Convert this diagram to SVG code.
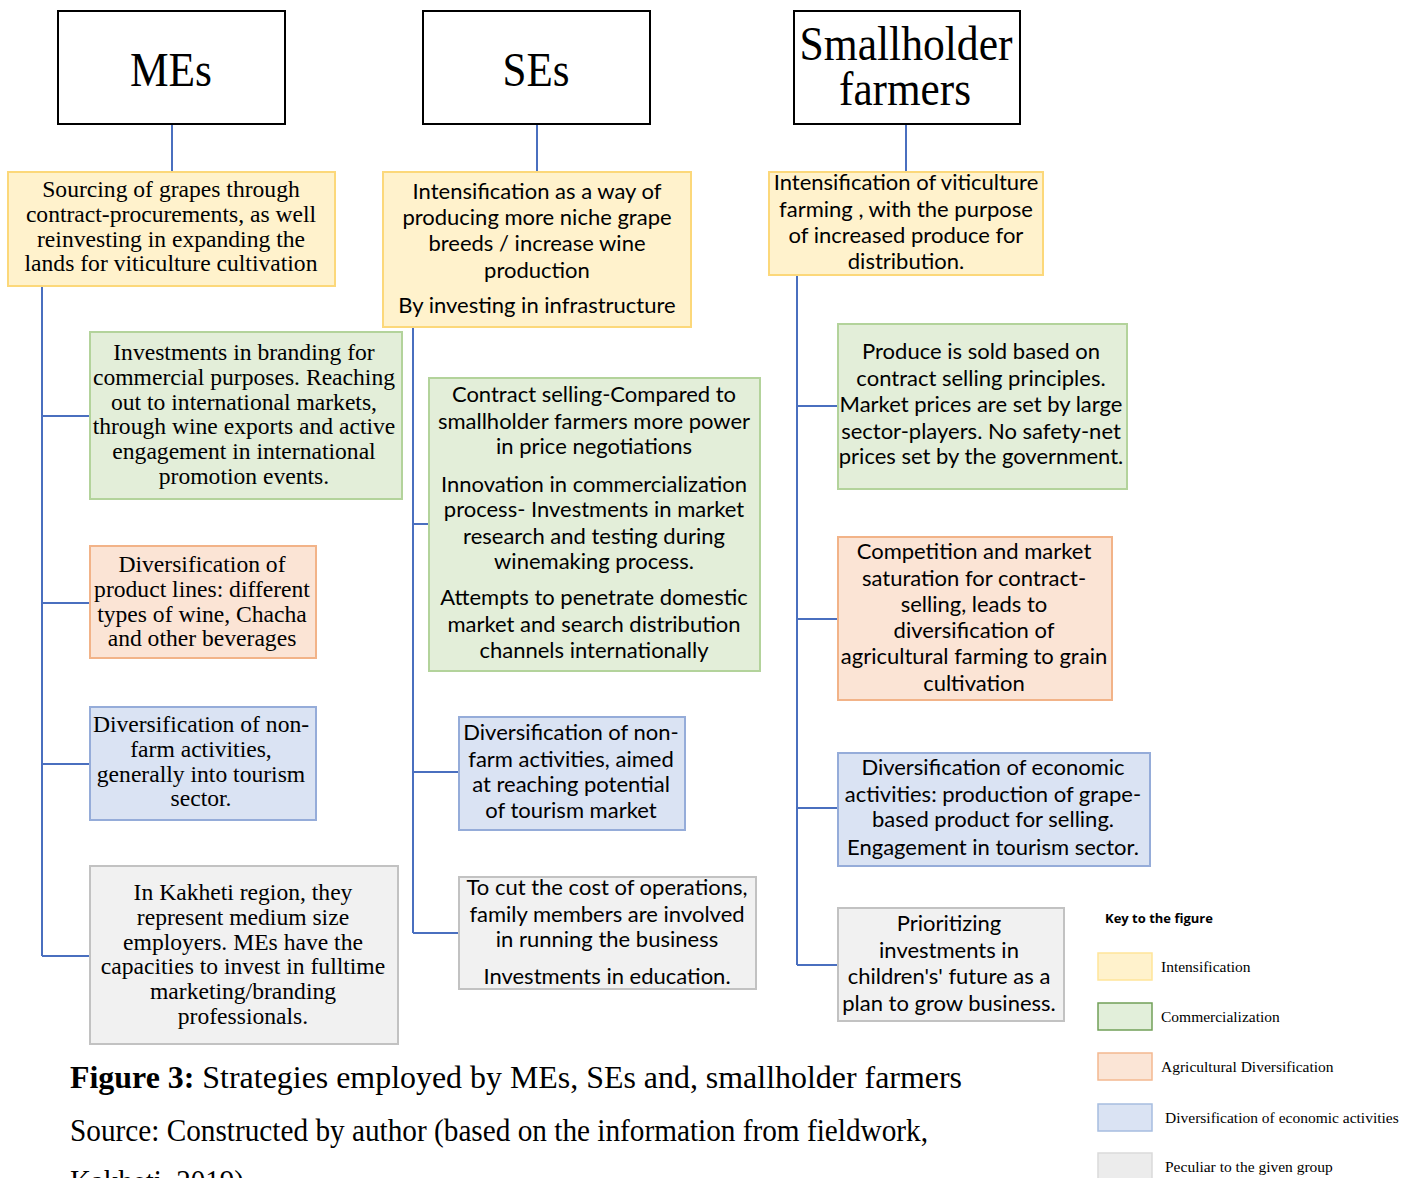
<svg xmlns="http://www.w3.org/2000/svg" width="1420" height="1178" viewBox="0 0 1420 1178">
<style>
.hdr{fill:#fff;stroke:#000;stroke-width:2}
.ht{font-family:"Liberation Serif",serif;font-size:48px;fill:#000;text-anchor:middle}
.y{fill:#fff2cc;stroke:#fcd87a;stroke-width:2}
.g{fill:#e3eed9;stroke:#b3d39b;stroke-width:2}
.o{fill:#fbe4d5;stroke:#f2b388;stroke-width:2}
.b{fill:#dae3f3;stroke:#95acd9;stroke-width:2}
.k{fill:#f1f1f1;stroke:#c2c2c2;stroke-width:2}
.se{font-family:"Liberation Serif",serif;font-size:23.6px;fill:#000;text-anchor:middle}
.sa{font-family:Lato,"Open Sans",sans-serif;font-size:22px;fill:#000;text-anchor:middle}
.c{stroke:#4a6fbf;stroke-width:2;fill:none}
.lg{font-family:"Liberation Serif",serif;font-size:15.5px;fill:#000}
.cap{font-family:"Liberation Serif",serif;font-size:32px;fill:#000}
</style>
<g id="connectors">
<path class="c" d="M172 124V172M537 124V172M906 124V172"/>
<path class="c" d="M42 286V956M42 416H90M42 603H90M42 764H90M42 956H90"/>
<path class="c" d="M413 327V933M413 524H429M413 772H459M413 933H459"/>
<path class="c" d="M797 275V965M797 406H838M797 619H838M797 808H838M797 965H838"/>
</g>
<g id="h-mes"><rect class="hdr" x="58" y="11" width="227" height="113"/><text class="ht" x="171" y="86" textLength="82" lengthAdjust="spacingAndGlyphs">MEs</text></g>
<g id="h-ses"><rect class="hdr" x="423" y="11" width="227" height="113"/><text class="ht" x="536" y="86" textLength="67" lengthAdjust="spacingAndGlyphs">SEs</text></g>
<g id="h-sh"><rect class="hdr" x="794" y="11" width="226" height="113"/><text class="ht" x="906" y="60" textLength="213" lengthAdjust="spacingAndGlyphs">Smallholder</text><text class="ht" x="905" y="105" textLength="132" lengthAdjust="spacingAndGlyphs">farmers</text></g>

<g id="me-int"><rect class="y" x="8" y="172" width="327" height="114"/>
<text class="se"><tspan x="171" y="197">Sourcing of grapes through</tspan><tspan x="171" y="222">contract-procurements, as well</tspan><tspan x="171" y="247">reinvesting in expanding the</tspan><tspan x="171" y="271">lands for viticulture cultivation</tspan></text></g>
<g id="se-int"><rect class="y" x="383" y="172" width="308" height="155"/>
<text class="sa"><tspan x="537" y="199">Intensification as a way of</tspan><tspan x="537" y="225">producing more niche grape</tspan><tspan x="537" y="251">breeds / increase wine</tspan><tspan x="537" y="278">production</tspan><tspan x="537" y="313">By investing in infrastructure</tspan></text></g>
<g id="sh-int"><rect class="y" x="769" y="172" width="274" height="103"/>
<text class="sa"><tspan x="906" y="190">Intensification of viticulture</tspan><tspan x="906" y="217">farming , with the purpose</tspan><tspan x="906" y="243">of increased produce for</tspan><tspan x="906" y="269">distribution.</tspan></text></g>

<g id="me-com"><rect class="g" x="90" y="332" width="312" height="167"/>
<text class="se"><tspan x="244" y="360">Investments in branding for</tspan><tspan x="244" y="385">commercial purposes. Reaching</tspan><tspan x="244" y="410">out to international markets,</tspan><tspan x="244" y="434">through wine exports and active</tspan><tspan x="244" y="459">engagement in international</tspan><tspan x="244" y="484">promotion events.</tspan></text></g>
<g id="me-agr"><rect class="o" x="90" y="546" width="226" height="112"/>
<text class="se"><tspan x="202" y="572">Diversification of</tspan><tspan x="202" y="597">product lines: different</tspan><tspan x="202" y="622">types of wine, Chacha</tspan><tspan x="202" y="646">and other beverages</tspan></text></g>
<g id="me-eco"><rect class="b" x="90" y="707" width="226" height="113"/>
<text class="se"><tspan x="201" y="732">Diversification of non-</tspan><tspan x="201" y="757">farm activities,</tspan><tspan x="201" y="782">generally into tourism</tspan><tspan x="201" y="806">sector.</tspan></text></g>
<g id="me-pec"><rect class="k" x="90" y="866" width="308" height="178"/>
<text class="se"><tspan x="243" y="900">In Kakheti region, they</tspan><tspan x="243" y="925">represent medium size</tspan><tspan x="243" y="950">employers. MEs have the</tspan><tspan x="243" y="974">capacities to invest in fulltime</tspan><tspan x="243" y="999">marketing/branding</tspan><tspan x="243" y="1024">professionals.</tspan></text></g>

<g id="se-com"><rect class="g" x="429" y="378" width="331" height="293"/>
<text class="sa"><tspan x="594" y="402">Contract selling-Compared to</tspan><tspan x="594" y="429">smallholder farmers more power</tspan><tspan x="594" y="454">in price negotiations</tspan><tspan x="594" y="492">Innovation in commercialization</tspan><tspan x="594" y="517">process- Investments in market</tspan><tspan x="594" y="544">research and testing during</tspan><tspan x="594" y="569">winemaking process.</tspan><tspan x="594" y="605">Attempts to penetrate domestic</tspan><tspan x="594" y="632">market and search distribution</tspan><tspan x="594" y="658">channels internationally</tspan></text></g>
<g id="se-eco"><rect class="b" x="459" y="717" width="226" height="113"/>
<text class="sa"><tspan x="571" y="740">Diversification of non-</tspan><tspan x="571" y="767">farm activities, aimed</tspan><tspan x="571" y="792">at  reaching potential</tspan><tspan x="571" y="818">of tourism market</tspan></text></g>
<g id="se-pec"><rect class="k" x="459" y="877" width="297" height="112"/>
<text class="sa"><tspan x="607" y="895">To cut the cost of operations,</tspan><tspan x="607" y="922">family members are involved</tspan><tspan x="607" y="947">in running the business</tspan><tspan x="607" y="984">Investments  in education.</tspan></text></g>

<g id="sh-com"><rect class="g" x="838" y="324" width="289" height="165"/>
<text class="sa"><tspan x="981" y="359">Produce is sold based on</tspan><tspan x="981" y="386">contract selling principles.</tspan><tspan x="981" y="412">Market prices are set by large</tspan><tspan x="981" y="439">sector-players. No safety-net</tspan><tspan x="981" y="464">prices set by the government.</tspan></text></g>
<g id="sh-agr"><rect class="o" x="838" y="537" width="274" height="163"/>
<text class="sa"><tspan x="974" y="559">Competition and market</tspan><tspan x="974" y="586">saturation for contract-</tspan><tspan x="974" y="612">selling, leads to</tspan><tspan x="974" y="638">diversification of</tspan><tspan x="974" y="664">agricultural farming to grain</tspan><tspan x="974" y="691">cultivation</tspan></text></g>
<g id="sh-eco"><rect class="b" x="838" y="753" width="312" height="113"/>
<text class="sa"><tspan x="993" y="775">Diversification of economic</tspan><tspan x="993" y="802">activities: production of grape-</tspan><tspan x="993" y="827">based product for selling.</tspan><tspan x="993" y="855">Engagement in tourism sector.</tspan></text></g>
<g id="sh-pec"><rect class="k" x="838" y="908" width="226" height="113"/>
<text class="sa"><tspan x="949" y="931">Prioritizing</tspan><tspan x="949" y="958">investments in</tspan><tspan x="949" y="984">children's' future as a</tspan><tspan x="949" y="1011">plan to grow business.</tspan></text></g>

<g id="legend">
<text x="1105" y="923" style="font-family:'Open Sans',Lato,sans-serif;font-size:13px;font-weight:bold">Key to the figure</text>
<rect x="1098" y="953" width="54" height="27" style="fill:#fff2cc;stroke:#ffe599;stroke-width:1.5"/>
<rect x="1098" y="1003" width="54" height="27" style="fill:#e2efda;stroke:#72a058;stroke-width:1.5"/>
<rect x="1098" y="1053" width="54" height="27" style="fill:#fbe5d6;stroke:#f4b890;stroke-width:1.5"/>
<rect x="1098" y="1104" width="54" height="27" style="fill:#dae3f3;stroke:#a7bde0;stroke-width:1.5"/>
<rect x="1098" y="1153" width="54" height="27" style="fill:#ececec;stroke:#dadada;stroke-width:1.5"/>
<text class="lg" x="1161" y="972">Intensification</text>
<text class="lg" x="1161" y="1022">Commercialization</text>
<text class="lg" x="1161" y="1072">Agricultural Diversification</text>
<text class="lg" x="1165" y="1123">Diversification of economic activities</text>
<text class="lg" x="1165" y="1172">Peculiar to the given group</text>
</g>

<g id="caption">
<text class="cap" x="70" y="1088" textLength="892" lengthAdjust="spacingAndGlyphs"><tspan font-weight="bold">Figure 3:</tspan> Strategies employed by MEs, SEs and, smallholder farmers</text>
<text class="cap" x="70" y="1141" textLength="858" lengthAdjust="spacingAndGlyphs">Source: Constructed by author (based on the information from fieldwork,</text>
<text class="cap" x="70" y="1192" textLength="174" lengthAdjust="spacingAndGlyphs">Kakheti, 2019)</text>
</g>
</svg>
